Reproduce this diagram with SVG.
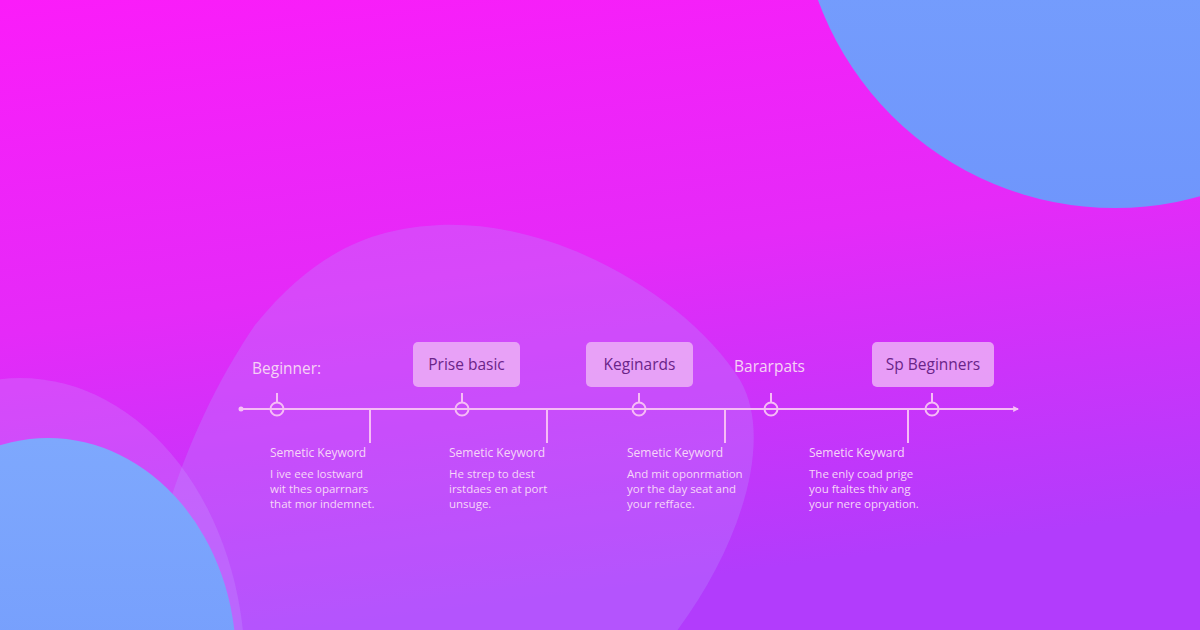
<svg xmlns="http://www.w3.org/2000/svg" width="1200" height="630" viewBox="0 0 1200 630">
  <defs>
    <linearGradient id="bg" x1="0" y1="0" x2="0.25" y2="1">
      <stop offset="0" stop-color="#fb1cf9"/>
      <stop offset="0.5" stop-color="#e52af8"/>
      <stop offset="1" stop-color="#b23cfc"/>
    </linearGradient>
    <linearGradient id="blue" x1="0" y1="0" x2="0" y2="1">
      <stop offset="0" stop-color="#7ea8fd"/>
      <stop offset="1" stop-color="#6f96fc"/>
    </linearGradient>
    <marker id="arrow" viewBox="0 0 10 10" refX="8" refY="5" markerWidth="6" markerHeight="6" orient="auto" markerUnits="userSpaceOnUse">
      <path d="M0,0 L10,5 L0,10 Z" fill="#f6c0f6"/>
    </marker>
    <style>
      .line { stroke: #f6bcf6; stroke-width: 2; fill: none; }
      .node { stroke: #f6bcf6; stroke-width: 2; fill: none; }
      .box { fill: #ecb0f6; fill-opacity: 0.85; }
      .boxtxt { font-family: "Open Sans", "Liberation Sans", sans-serif; font-size: 15.5px; fill: #6b2489; text-anchor: middle; }
      .lbl { font-family: "Open Sans", "Liberation Sans", sans-serif; font-size: 15.5px; fill: #f6d2f6; }
      .head { font-family: "Open Sans", "Liberation Sans", sans-serif; font-size: 12px; fill: #f6d6f8; }
      .body { font-family: "Open Sans", "Liberation Sans", sans-serif; font-size: 11.5px; fill: #f6d6f8; }
    </style>
  </defs>

  <rect width="1200" height="630" fill="url(#bg)"/>
  <circle cx="1115" cy="-108" r="316" fill="url(#blue)"/>
  <path d="M440 225 C560 220 690 300 740 380 C775 440 740 550 670 640 L140 640 C150 540 190 420 255 325 C320 245 380 228 440 225 Z" fill="#b890ff" fill-opacity="0.3"/>
  <ellipse cx="20" cy="670" rx="225" ry="292" fill="#c8a0ff" fill-opacity="0.25"/>
  <ellipse cx="48" cy="660" rx="188" ry="222" fill="url(#blue)"/>

  <g id="connectors">
    <line class="line" x1="241" y1="409" x2="1018" y2="409" marker-end="url(#arrow)"/>
    <circle cx="241" cy="409" r="2.5" fill="#f6c0f6"/>
    <line class="line" x1="277" y1="393" x2="277" y2="402"/>
    <line class="line" x1="462" y1="393" x2="462" y2="402"/>
    <line class="line" x1="639" y1="393" x2="639" y2="402"/>
    <line class="line" x1="771" y1="393" x2="771" y2="402"/>
    <line class="line" x1="932" y1="393" x2="932" y2="402"/>
    <line class="line" x1="370" y1="409" x2="370" y2="443"/>
    <line class="line" x1="547" y1="409" x2="547" y2="443"/>
    <line class="line" x1="725" y1="409" x2="725" y2="443"/>
    <line class="line" x1="908" y1="409" x2="908" y2="443"/>
  </g>

  <g id="node-beginner">
    <circle class="node" cx="277" cy="409" r="6.5"/>
    <text class="lbl" x="252" y="374">Beginner:</text>
  </g>
  <g id="node-prise">
    <rect class="box" x="413" y="342" width="107" height="45" rx="5"/>
    <text class="boxtxt" x="466.5" y="370">Prise basic</text>
    <circle class="node" cx="462" cy="409" r="6.5"/>
  </g>
  <g id="node-keginards">
    <rect class="box" x="586" y="342" width="107" height="45" rx="5"/>
    <text class="boxtxt" x="639.5" y="370">Keginards</text>
    <circle class="node" cx="639" cy="409" r="6.5"/>
  </g>
  <g id="node-bararpats">
    <circle class="node" cx="771" cy="409" r="6.5"/>
    <text class="lbl" x="734" y="372">Bararpats</text>
  </g>
  <g id="node-sp">
    <rect class="box" x="872" y="342" width="122" height="45" rx="5"/>
    <text class="boxtxt" x="933" y="370">Sp Beginners</text>
    <circle class="node" cx="932" cy="409" r="6.5"/>
  </g>

  <g id="desc-1">
    <text class="head" x="270" y="457">Semetic Keyword</text>
    <text class="body" x="270" y="478">I ive eee lostward</text>
    <text class="body" x="270" y="493">wit thes oparrnars</text>
    <text class="body" x="270" y="508">that mor indemnet.</text>
  </g>
  <g id="desc-2">
    <text class="head" x="449" y="457">Semetic Keyword</text>
    <text class="body" x="449" y="478">He strep to dest</text>
    <text class="body" x="449" y="493">irstdaes en at port</text>
    <text class="body" x="449" y="508">unsuge.</text>
  </g>
  <g id="desc-3">
    <text class="head" x="627" y="457">Semetic Keyword</text>
    <text class="body" x="627" y="478">And mit oponrmation</text>
    <text class="body" x="627" y="493">yor the day seat and</text>
    <text class="body" x="627" y="508">your refface.</text>
  </g>
  <g id="desc-4">
    <text class="head" x="809" y="457">Semetic Keyward</text>
    <text class="body" x="809" y="478">The enly coad prige</text>
    <text class="body" x="809" y="493">you ftaltes thiv ang</text>
    <text class="body" x="809" y="508">your nere opryation.</text>
  </g>
</svg>
